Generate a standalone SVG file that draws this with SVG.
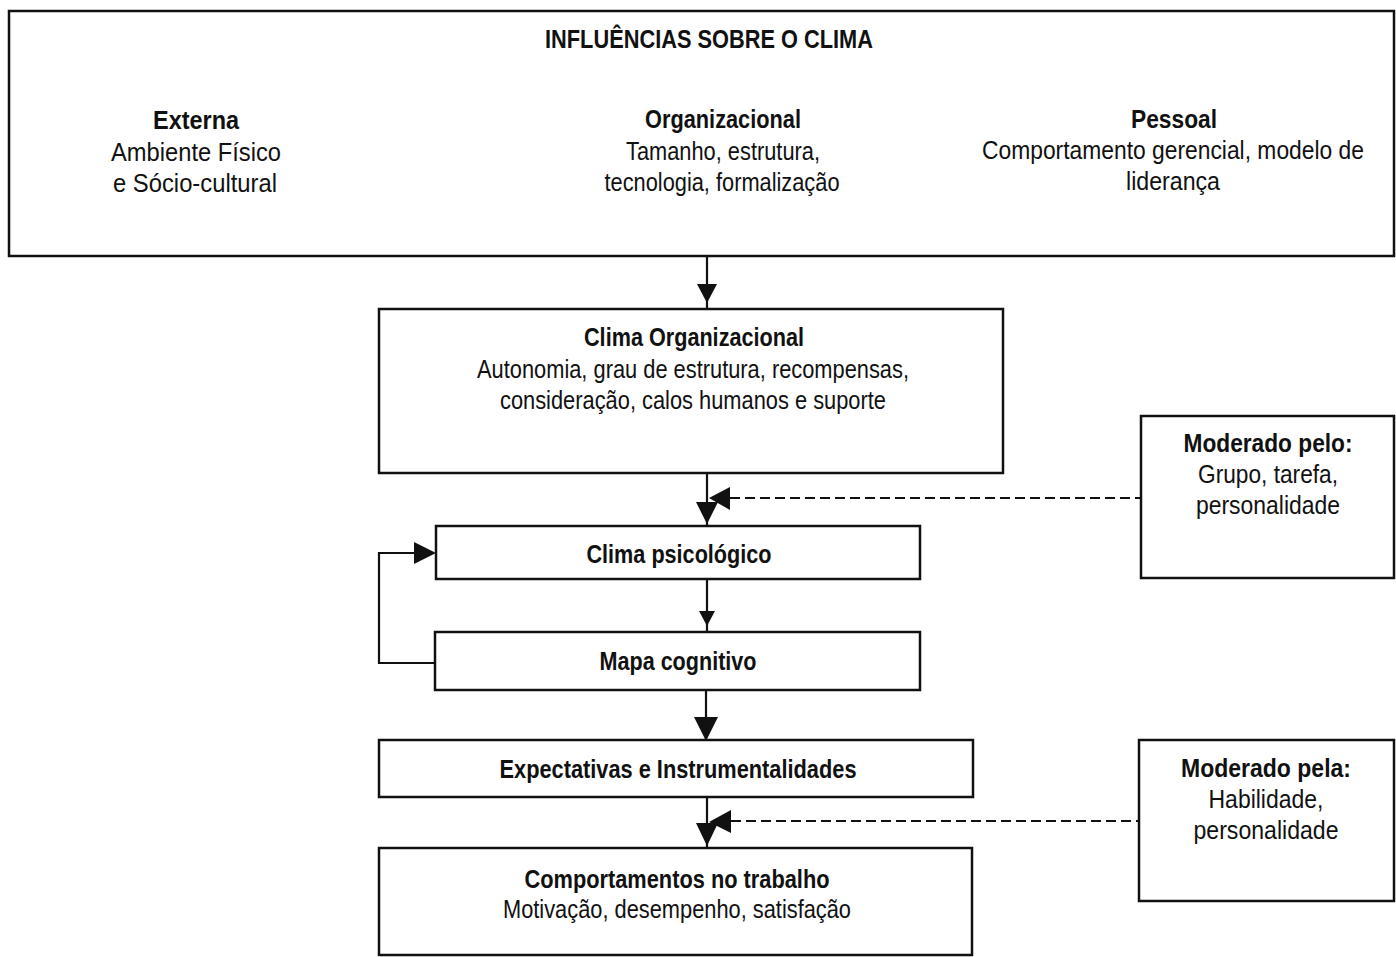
<svg xmlns="http://www.w3.org/2000/svg" width="1396" height="957" viewBox="0 0 1396 957">
  <style>
    .box { fill: #ffffff; stroke: #111111; stroke-width: 2.5; }
    .line { fill: none; stroke: #111111; stroke-width: 2.2; }
    .dash { fill: none; stroke: #111111; stroke-width: 2.2; stroke-dasharray: 10 5; }
    .head { fill: #111111; stroke: none; }
    text { font-family: "Liberation Sans", Arial, sans-serif; font-size: 25px; fill: #111111; text-anchor: middle; }
    .b { font-weight: bold; }
  </style>
  <rect width="1396" height="957" fill="#ffffff"/>

  <!-- Connectors -->
  <g id="connectors">
    <!-- influences -> organisational climate -->
    <line class="line" x1="707" y1="256" x2="707" y2="309"/>
    <polygon class="head" points="697,284 717,284 707,303"/>
    <!-- organisational climate -> psychological climate -->
    <line class="line" x1="707" y1="473" x2="707" y2="526"/>
    <polygon class="head" points="696,502 718,502 707,524"/>
    <!-- moderator 1 (dashed) -->
    <line class="dash" x1="730" y1="498" x2="1141" y2="498"/>
    <polygon class="head" points="709,498 730,487 730,510"/>
    <!-- psychological climate -> cognitive map -->
    <line class="line" x1="707" y1="579" x2="707" y2="632"/>
    <polygon class="head" points="699,611 715,611 707,626"/>
    <!-- feedback loop cognitive map -> psychological climate -->
    <polyline class="line" points="435,663 379,663 379,553 418,553"/>
    <polygon class="head" points="436,553 414,542 414,564"/>
    <!-- cognitive map -> expectations -->
    <line class="line" x1="706" y1="690" x2="706" y2="740"/>
    <polygon class="head" points="694,717 718,717 706,741"/>
    <!-- expectations -> work behaviours -->
    <line class="line" x1="707" y1="797" x2="707" y2="848"/>
    <polygon class="head" points="696,823 718,823 707,846"/>
    <!-- moderator 2 (dashed) -->
    <line class="dash" x1="731" y1="821" x2="1139" y2="821"/>
    <polygon class="head" points="709,822 731,810 731,833"/>
  </g>

  <g id="influencias">
    <rect class="box" x="9" y="11" width="1385" height="245"/>
    <text class="b" x="709" y="48" textLength="328" lengthAdjust="spacingAndGlyphs">INFLUÊNCIAS SOBRE O CLIMA</text>
    <text class="b" x="196" y="129" textLength="86" lengthAdjust="spacingAndGlyphs">Externa</text>
    <text x="196" y="161" textLength="170" lengthAdjust="spacingAndGlyphs">Ambiente Físico</text>
    <text x="195" y="192" textLength="164" lengthAdjust="spacingAndGlyphs">e Sócio-cultural</text>
    <text class="b" x="723" y="128" textLength="156" lengthAdjust="spacingAndGlyphs">Organizacional</text>
    <text x="723" y="160" textLength="194" lengthAdjust="spacingAndGlyphs">Tamanho, estrutura,</text>
    <text x="722" y="191" textLength="235" lengthAdjust="spacingAndGlyphs">tecnologia, formalização</text>
    <text class="b" x="1174" y="128" textLength="86" lengthAdjust="spacingAndGlyphs">Pessoal</text>
    <text x="1173" y="159" textLength="382" lengthAdjust="spacingAndGlyphs">Comportamento gerencial, modelo de</text>
    <text x="1173" y="190" textLength="94" lengthAdjust="spacingAndGlyphs">liderança</text>
  </g>

  <g id="clima-organizacional">
    <rect class="box" x="379" y="309" width="624" height="164"/>
    <text class="b" x="694" y="346" textLength="220" lengthAdjust="spacingAndGlyphs">Clima Organizacional</text>
    <text x="693" y="378" textLength="432" lengthAdjust="spacingAndGlyphs">Autonomia, grau de estrutura, recompensas,</text>
    <text x="693" y="409" textLength="386" lengthAdjust="spacingAndGlyphs">consideração, calos humanos e suporte</text>
  </g>

  <g id="moderado-pelo">
    <rect class="box" x="1141" y="416" width="253" height="162"/>
    <text class="b" x="1268" y="452" textLength="169" lengthAdjust="spacingAndGlyphs">Moderado pelo:</text>
    <text x="1268" y="483" textLength="140" lengthAdjust="spacingAndGlyphs">Grupo, tarefa,</text>
    <text x="1268" y="514" textLength="144" lengthAdjust="spacingAndGlyphs">personalidade</text>
  </g>

  <g id="clima-psicologico">
    <rect class="box" x="436" y="526" width="484" height="53"/>
    <text class="b" x="679" y="563" textLength="185" lengthAdjust="spacingAndGlyphs">Clima psicológico</text>
  </g>

  <g id="mapa-cognitivo">
    <rect class="box" x="435" y="632" width="485" height="58"/>
    <text class="b" x="678" y="670" textLength="157" lengthAdjust="spacingAndGlyphs">Mapa cognitivo</text>
  </g>

  <g id="expectativas">
    <rect class="box" x="379" y="740" width="594" height="57"/>
    <text class="b" x="678" y="778" textLength="357" lengthAdjust="spacingAndGlyphs">Expectativas e Instrumentalidades</text>
  </g>

  <g id="moderado-pela">
    <rect class="box" x="1139" y="740" width="255" height="161"/>
    <text class="b" x="1266" y="777" textLength="170" lengthAdjust="spacingAndGlyphs">Moderado pela:</text>
    <text x="1266" y="808" textLength="115" lengthAdjust="spacingAndGlyphs">Habilidade,</text>
    <text x="1266" y="839" textLength="145" lengthAdjust="spacingAndGlyphs">personalidade</text>
  </g>

  <g id="comportamentos">
    <rect class="box" x="379" y="848" width="593" height="107"/>
    <text class="b" x="677" y="888" textLength="305" lengthAdjust="spacingAndGlyphs">Comportamentos no trabalho</text>
    <text x="677" y="918" textLength="348" lengthAdjust="spacingAndGlyphs">Motivação, desempenho, satisfação</text>
  </g>
</svg>
